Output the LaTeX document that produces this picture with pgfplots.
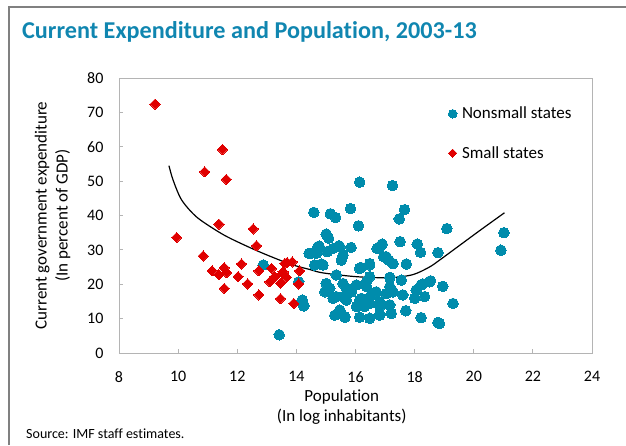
\documentclass[border=0pt]{standalone}
\usepackage{fontspec}
\setmainfont{Carlito}[Ligatures=NoCommon]
\usepackage{pgfplots}
\pgfplotsset{compat=1.18}
\definecolor{nsblue}{RGB}{0,140,172}
\definecolor{sred}{RGB}{224,0,0}
\definecolor{ttl}{RGB}{16,134,176}
\definecolor{axgray}{RGB}{180,180,180}
\definecolor{frgray}{RGB}{128,128,128}
\begin{document}
\begin{tikzpicture}[x=1pt,y=1pt]
\useasboundingbox (-119,-92) rectangle (507,353);
\draw[frgray, line width=2pt] (-110,-92) -- (-110,346) -- (507,346);
\node[anchor=west, inner sep=0pt, font=\fontsize{24.2}{28}\selectfont\bfseries, text=ttl] at (-97,321) {Current Expenditure and Population, 2003-13};
\node[anchor=west, inner sep=0pt, font=\fontsize{14}{16}\selectfont] at (-93,-81) {Source: IMF staff estimates.};
\begin{axis}[
 at={(0,0)}, anchor=south west,
 scale only axis, width=473pt, height=275pt,
 xmin=8, xmax=24, ymin=0, ymax=80,
 xtick={8,10,...,24}, ytick={0,10,...,80},
 tick pos=left, tick align=inside, major tick length=4pt,
 axis line style={axgray, line width=0.8pt},
 tick style={axgray, line width=0.8pt},
 /pgf/number format/assume math mode=true,
 ticklabel style={font=\fontsize{16}{19}\selectfont},
 xticklabel style={yshift=-15pt},
 yticklabel style={xshift=-12pt},
 xlabel={Population\\(In log inhabitants)},
 xlabel style={at={(axis description cs:0.471,0)}, anchor=north, yshift=-36pt, align=center, inner sep=0pt, font=\fontsize{17}{20}\selectfont},
 ylabel={Current government expenditure\\(In percent of GDP)},
 ylabel style={at={(axis description cs:-0.1406,0.5)}, anchor=center, align=center, inner sep=0pt, font=\fontsize{17}{21}\selectfont},
 legend style={at={(0.696,0.902)}, anchor=north west, draw=none, fill=none, inner sep=0pt, row sep=22pt, font=\fontsize{17}{20}\selectfont, /tikz/every odd column/.append style={column sep=3pt}},
 legend cell align=left,
]
\addlegendimage{only marks, mark=*, mark size=4.3pt, color=nsblue, mark options={line width=0pt, draw=nsblue, fill=nsblue}}
\addlegendentry{Nonsmall states}
\addlegendimage{only marks, mark=square*, mark size=2.9pt, color=sred, mark options={line width=0pt, draw=sred, fill=sred, rotate=45}}
\addlegendentry{Small states}
\addplot[forget plot, only marks, color=nsblue, mark=*, mark size=5.3pt, mark options={line width=0pt, draw=nsblue, fill=nsblue}] table {
x y
12.88 25.6
14.43 29.0
14.08 20.7
14.20 15.4
14.25 13.7
13.42 5.3
16.14 49.7
17.25 48.7
14.59 40.9
15.15 40.5
15.33 39.4
15.83 42.0
17.66 41.7
17.48 39.0
16.10 37.0
15.01 34.6
15.09 33.4
14.77 31.1
14.51 29.0
15.24 30.4
15.44 31.2
15.04 29.5
15.58 28.5
15.52 27.0
15.85 30.7
17.51 32.4
16.90 31.7
16.73 30.4
18.09 31.7
18.20 29.3
18.79 29.2
16.95 28.0
17.13 27.0
17.27 26.0
16.48 26.0
17.72 25.9
14.62 25.6
14.85 25.9
16.18 24.9
15.35 22.7
16.48 22.2
17.16 22.0
17.55 21.2
15.01 20.2
15.58 20.2
16.03 19.8
14.96 17.8
15.13 18.8
15.86 17.8
16.37 19.3
16.70 17.8
17.04 17.3
17.27 17.8
17.60 16.9
18.05 18.3
18.22 19.8
18.50 20.7
18.34 16.4
18.00 15.9
15.24 15.9
15.58 16.4
16.20 15.9
16.53 16.9
16.82 14.9
17.16 14.0
16.03 13.5
16.31 13.5
15.47 12.5
15.30 11.0
15.64 10.4
16.14 10.4
16.48 10.1
16.82 11.3
17.21 11.5
17.70 12.3
18.22 10.3
18.79 8.9
14.23 14.0
19.09 36.2
21.02 35.0
20.92 29.9
18.54 21.0
18.28 20.1
18.95 19.4
19.30 14.4
18.84 8.6
14.73 30.9
14.68 29.0
15.47 30.9
16.82 30.9
14.90 25.6
16.14 24.6
16.48 25.6
17.04 28.0
15.69 18.8
16.37 20.7
17.16 19.3
15.35 16.4
15.69 15.4
16.14 15.4
16.48 14.4
16.82 13.5
15.64 10.6
16.82 11.0
14.23 14.4
};
\addplot[forget plot, only marks, color=sred, mark=square*, mark size=3.6pt, mark options={line width=0pt, draw=sred, fill=sred, rotate=45}] table {
x y
9.22 72.4
11.50 59.2
10.90 52.7
11.63 50.5
11.38 37.5
12.54 36.1
9.95 33.6
12.65 31.2
10.85 28.2
11.15 23.9
11.38 22.8
11.56 24.8
11.64 23.4
11.56 18.8
12.14 25.9
12.03 22.2
12.35 20.1
12.73 23.9
12.73 16.9
13.16 24.6
13.10 20.7
13.27 22.2
13.46 20.3
13.55 23.6
13.69 26.3
13.86 26.5
13.66 22.0
14.11 23.9
14.08 20.1
13.46 15.8
13.91 14.4
13.61 26.1
13.55 23.1
};
\addplot[forget plot, black, line width=1.2pt, smooth, tension=0.5] coordinates {
(9.69,54.5) (9.83,50.3) (10.12,44.5) (10.62,39.6) (11.3,35.6) (11.8,33.2) (12.76,29.4) (13.78,25.9) (14.45,24.3) (14.9,23.3) (16.03,22.2) (17.16,21.9) (17.94,22.8) (18.5,25.0) (18.84,27.0) (19.3,29.9) (20.2,35.6) (21.04,40.8)
};
\end{axis}
\end{tikzpicture}
\end{document}
